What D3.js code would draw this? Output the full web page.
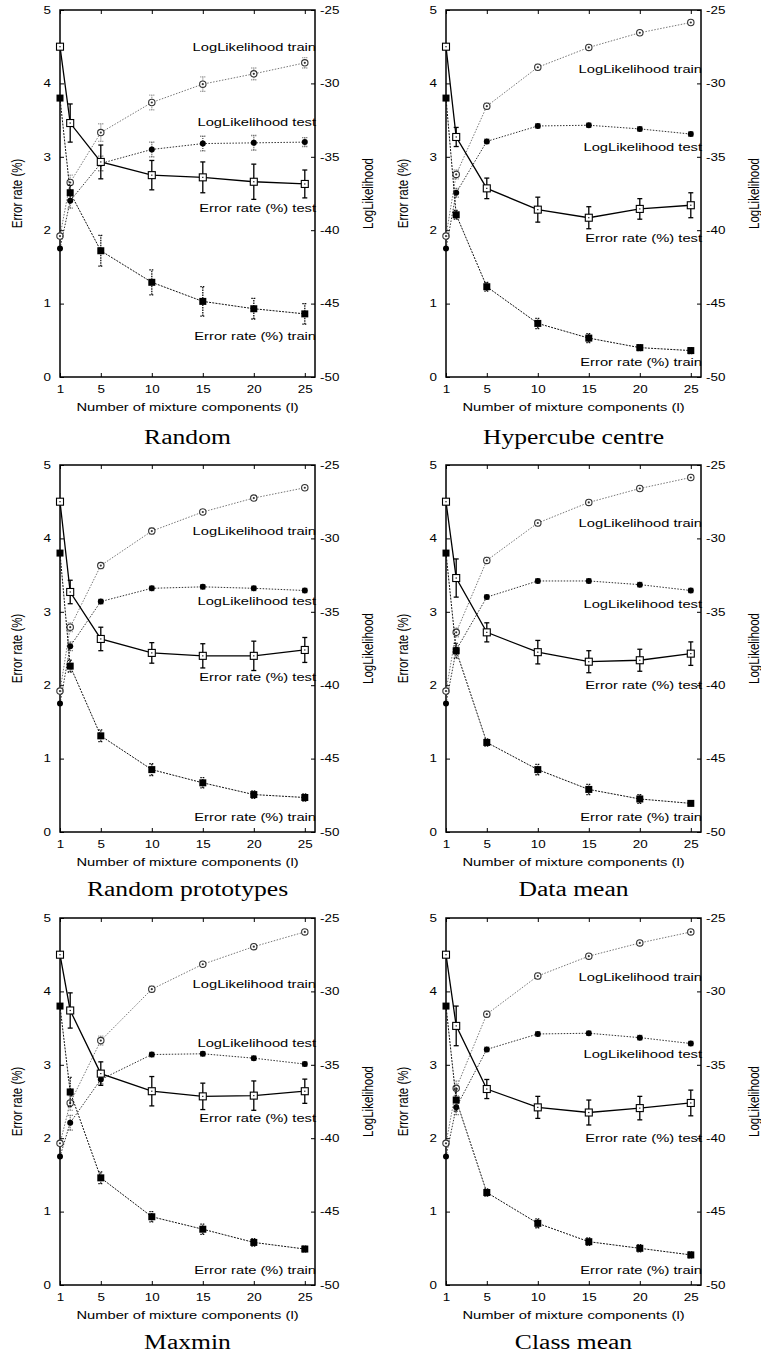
<!DOCTYPE html>
<html>
<head>
<meta charset="utf-8">
<script src="https://cdn.jsdelivr.net/npm/d3@7"></script>
<style>
	body { margin: 0; background: #fff; }
	svg { display: block; }
</style>
</head>
<body>
<svg id="chart" width="761" height="1360"></svg>
<script>
// values
const xValues = [1, 2, 5, 10, 15, 20, 25];
const xTicks = [1, 5, 10, 15, 20, 25];
const errTicks = [0, 1, 2, 3, 4, 5];
const llTicks = [-50, -45, -40, -35, -30, -25];
const panelTitles = ['Random', 'Hypercube centre', 'Random prototypes', 'Data mean', 'Maxmin', 'Class mean'];
const seriesNames = ['LogLikelihood train', 'LogLikelihood test', 'Error rate (%) test', 'Error rate (%) train'];

const errTest = [
	[4.5, 3.46, 2.93, 2.75, 2.72, 2.66, 2.63],
	[4.5, 3.27, 2.57, 2.28, 2.17, 2.29, 2.34],
	[4.5, 3.27, 2.63, 2.44, 2.40, 2.40, 2.48],
	[4.5, 3.46, 2.72, 2.45, 2.32, 2.34, 2.43],
	[4.5, 3.74, 2.88, 2.64, 2.57, 2.58, 2.64],
	[4.5, 3.53, 2.67, 2.42, 2.35, 2.41, 2.48],
];
const errTestSd = [
	[0, 0.26, 0.23, 0.20, 0.21, 0.24, 0.19],
	[0, 0.13, 0.14, 0.17, 0.15, 0.14, 0.17],
	[0, 0.16, 0.16, 0.14, 0.165, 0.20, 0.17],
	[0, 0.26, 0.13, 0.16, 0.15, 0.15, 0.16],
	[0, 0.24, 0.16, 0.20, 0.18, 0.20, 0.165],
	[0, 0.27, 0.13, 0.15, 0.17, 0.16, 0.175],
];
const errTrain = [
	[3.8, 2.51, 1.72, 1.29, 1.03, 0.93, 0.86],
	[3.8, 2.21, 1.23, 0.73, 0.53, 0.40, 0.36],
	[3.8, 2.26, 1.31, 0.85, 0.67, 0.51, 0.47],
	[3.8, 2.47, 1.22, 0.85, 0.58, 0.45, 0.39],
	[3.8, 2.63, 1.46, 0.93, 0.76, 0.58, 0.49],
	[3.8, 2.52, 1.26, 0.84, 0.59, 0.50, 0.41],
];
const errTrainSd = [
	[0, 0.10, 0.21, 0.17, 0.20, 0.14, 0.14],
	[0, 0.06, 0.06, 0.07, 0.06, 0.04, 0.04],
	[0, 0.08, 0.08, 0.08, 0.07, 0.05, 0.05],
	[0, 0.10, 0.05, 0.07, 0.07, 0.06, 0.03],
	[0, 0.20, 0.08, 0.07, 0.07, 0.05, 0.04],
	[0, 0.15, 0.05, 0.06, 0.05, 0.05, 0.04],
];
const llTrain = [
	[-40.4, -36.75, -33.35, -31.3, -30.05, -29.35, -28.6],
	[-40.4, -36.2, -31.55, -28.9, -27.55, -26.55, -25.85],
	[-40.4, -36.05, -31.85, -29.5, -28.2, -27.25, -26.55],
	[-40.4, -36.4, -31.5, -28.95, -27.55, -26.6, -25.85],
	[-40.35, -37.6, -33.35, -29.85, -28.15, -26.95, -25.95],
	[-40.35, -36.6, -31.55, -28.95, -27.6, -26.7, -25.95],
];
const llTrainSd = [
	[0, 0.5, 0.6, 0.5, 0.5, 0.4, 0.35],
	[0, 0.3, 0.2, 0.2, 0.15, 0.15, 0.15],
	[0, 0.3, 0.2, 0.2, 0.15, 0.15, 0.15],
	[0, 0.3, 0.2, 0.2, 0.15, 0.15, 0.15],
	[0, 0.5, 0.3, 0.2, 0.15, 0.15, 0.15],
	[0, 0.5, 0.2, 0.2, 0.15, 0.15, 0.15],
];
const llTest = [
	[-41.25, -38.0, -35.45, -34.5, -34.1, -34.05, -34.0],
	[-41.25, -37.45, -33.95, -32.9, -32.85, -33.1, -33.45],
	[-41.25, -37.35, -34.3, -33.4, -33.3, -33.4, -33.55],
	[-41.25, -37.6, -34.0, -32.9, -32.9, -33.15, -33.55],
	[-41.25, -38.95, -36.0, -34.3, -34.25, -34.55, -34.95],
	[-41.25, -37.9, -33.95, -32.9, -32.85, -33.15, -33.55],
];
const llTestSd = [
	[0, 0.5, 0.5, 0.5, 0.5, 0.5, 0.3],
	[0, 0.3, 0.15, 0.15, 0.15, 0.15, 0.15],
	[0, 0.3, 0.15, 0.15, 0.15, 0.15, 0.15],
	[0, 0.3, 0.15, 0.15, 0.15, 0.15, 0.15],
	[0, 0.5, 0.3, 0.15, 0.15, 0.15, 0.15],
	[0, 0.5, 0.15, 0.15, 0.15, 0.15, 0.15],
];

// where each key text sits, in error-rate units (layout, not data)
const keyRows = [
	[4.5, 3.48, 2.30, 0.56],
	[4.2, 3.14, 1.9, 0.2],
	[4.1, 3.15, 2.11, 0.2],
	[4.21, 3.1, 2.0, 0.21],
	[4.1, 3.3, 2.27, 0.2],
	[4.2, 3.15, 2.0, 0.2],
];

// layout
const colLeft = [60, 446];
const rowTop = [10, 465, 918];
const titleBase = [444, 896, 1349];
const pw = 255;
const ph = 367;
const SX = 1.28; // the original is stretched horizontally
const sans = "'Liberation Sans', Arial, Helvetica, sans-serif";

const svg = d3.select('#chart');

// stretch text horizontally without moving its anchor
const stretch = sel => sel.each(function() {
	const t = d3.select(this);
	const x = +t.attr('x') || 0;
	t.attr('x', x / SX).attr('transform', `scale(${SX},1)`);
});

const stretchedText = (g, x, y, txt, size, anchor, rot) => g.append('text')
	.attr('transform', `translate(${x},${y}) scale(${SX},1)` + (rot ? ' rotate(-90)' : ''))
	.attr('text-anchor', anchor)
	.attr('dy', '0.35em')
	.style('font-family', sans)
	.style('font-size', size + 'px')
	.text(txt);

panelTitles.forEach((title, p) => {
	const col = p % 2;
	const row = Math.floor(p / 2);
	const left = colLeft[col];
	const top = rowTop[row];

	const x = d3.scaleLinear().domain([1, 26]).range([left, left + pw]);
	const yE = d3.scaleLinear().domain([0, 5]).range([top + ph, top]);
	const yL = d3.scaleLinear().domain([-50, -25]).range([top + ph, top]);

	const g = svg.append('g').attr('class', 'panel');

	// axes, ticks pointing inward
	const styleAxis = a => {
		a.select('.domain').remove();
		a.selectAll('line').attr('stroke', '#000').attr('stroke-width', 1);
		a.selectAll('text').style('font-family', sans).style('font-size', '10.5px').attr('fill', '#000');
		a.selectAll('text').call(stretch);
	};
	g.append('g')
		.attr('transform', `translate(${left},0)`)
		.call(d3.axisLeft(yE).tickValues(errTicks).tickSize(-4).tickPadding(9).tickFormat(d => String(d)))
		.call(styleAxis);
	g.append('g')
		.attr('transform', `translate(${left + pw},0)`)
		.call(d3.axisRight(yL).tickValues(llTicks).tickSize(-4).tickPadding(5).tickFormat(d => String(d)))
		.call(styleAxis);
	g.append('g')
		.attr('transform', `translate(0,${top + ph})`)
		.call(d3.axisBottom(x).tickValues(xTicks).tickSize(-4).tickPadding(9).tickFormat(d => String(d)))
		.call(styleAxis);
	g.append('g')
		.attr('transform', `translate(0,${top})`)
		.call(d3.axisTop(x).tickValues(xTicks).tickSize(-4).tickFormat(''))
		.call(styleAxis);

	g.append('rect')
		.attr('x', left).attr('y', top)
		.attr('width', pw).attr('height', ph)
		.attr('fill', 'none')
		.attr('stroke', '#000')
		.attr('stroke-width', 1.5);

	// axis titles
	stretchedText(g, left + pw / 2, top + ph + 30, 'Number of mixture components (l)', 11.5, 'middle');
	stretchedText(g, left - 43, top + ph / 2, 'Error rate (%)', 11.5, 'middle', true);
	stretchedText(g, left + pw + 53, top + ph / 2, 'LogLikelihood', 11.5, 'middle', true);

	// series
	const series = [
		{ vals: llTrain[p], sd: llTrainSd[p], y: yL, stroke: '#777', dash: '1.5,1.5', lw: 1, bar: '#888', barDash: '1,1', mark: 'ocircle' },
		{ vals: llTest[p], sd: llTestSd[p], y: yL, stroke: '#333', dash: '1.5,1.5', lw: 1, bar: '#555', barDash: '1,1', mark: 'fcircle' },
		{ vals: errTrain[p], sd: errTrainSd[p], y: yE, stroke: '#111', dash: '2,1.2', lw: 1, bar: '#111', barDash: '1.5,1', mark: 'fsquare' },
		{ vals: errTest[p], sd: errTestSd[p], y: yE, stroke: '#000', dash: null, lw: 1.3, bar: '#000', barDash: null, mark: 'osquare' },
	];

	series.forEach(s => {
		const pts = xValues.map((xv, i) => ({ x: xv, v: s.vals[i], sd: s.sd[i] }));
		const line = d3.line().x(d => x(d.x)).y(d => s.y(d.v));
		g.append('path')
			.datum(pts)
			.attr('d', line)
			.attr('fill', 'none')
			.attr('stroke', s.stroke)
			.attr('stroke-width', s.lw)
			.attr('stroke-dasharray', s.dash);

		// error bars
		const bars = g.append('g')
			.attr('stroke', s.bar)
			.attr('stroke-width', 1.3)
			.attr('stroke-dasharray', s.barDash)
			.attr('fill', 'none');
		pts.filter(d => d.sd > 0).forEach(d => {
			const cx = x(d.x);
			const y0 = s.y(d.v - d.sd);
			const y1 = s.y(d.v + d.sd);
			bars.append('line').attr('x1', cx).attr('x2', cx).attr('y1', y0).attr('y2', y1);
			bars.append('line').attr('x1', cx - 2.5).attr('x2', cx + 2.5).attr('y1', y0).attr('y2', y0);
			bars.append('line').attr('x1', cx - 2.5).attr('x2', cx + 2.5).attr('y1', y1).attr('y2', y1);
		});

		// markers
		const marks = g.append('g');
		pts.forEach(d => {
			const cx = x(d.x);
			const cy = s.y(d.v);
			if (s.mark === 'osquare') {
				marks.append('rect').attr('x', cx - 3.5).attr('y', cy - 3.5).attr('width', 7).attr('height', 7)
					.attr('fill', '#fff').attr('stroke', '#000').attr('stroke-width', 1.1);
				marks.append('rect').attr('x', cx - 0.6).attr('y', cy - 0.6).attr('width', 1.2).attr('height', 1.2).attr('fill', '#000');
			} else if (s.mark === 'fsquare') {
				marks.append('rect').attr('x', cx - 3.5).attr('y', cy - 3.5).attr('width', 7).attr('height', 7).attr('fill', '#000');
			} else if (s.mark === 'ocircle') {
				marks.append('circle').attr('cx', cx).attr('cy', cy).attr('r', 3.2)
					.attr('fill', '#fff').attr('stroke', '#333').attr('stroke-width', 1.1);
				marks.append('circle').attr('cx', cx).attr('cy', cy).attr('r', 1.1).attr('fill', '#333');
			} else {
				marks.append('circle').attr('cx', cx).attr('cy', cy).attr('r', 3).attr('fill', '#000');
			}
		});
	});

	// key texts at the right edge
	seriesNames.forEach((name, k) => {
		stretchedText(g, left + pw + 1, yE(keyRows[p][k]), name, 11.5, 'end');
	});

	// panel title
	g.append('text')
		.attr('transform', `translate(${left + pw / 2},${titleBase[row]}) scale(${SX},1)`)
		.attr('text-anchor', 'middle')
		.style('font-family', "'Liberation Serif', 'Times New Roman', serif")
		.style('font-size', '20px')
		.text(title);
});
</script>
</body>
</html>
